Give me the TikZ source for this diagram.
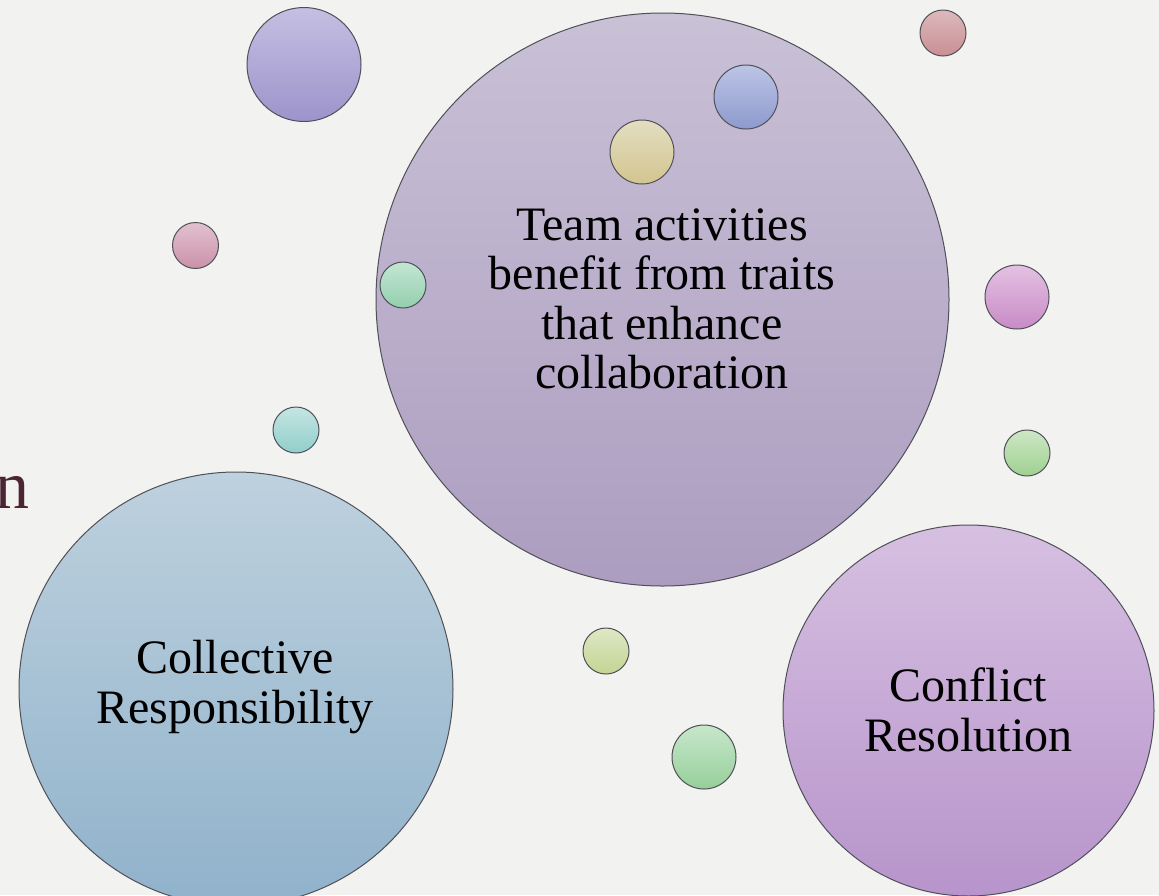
\documentclass[tikz,border=0pt]{standalone}
\usepackage{fontspec}
\setmainfont{Liberation Serif}
% bubble palette: <name>t = top of the shade, <name>b = bottom
\definecolor{bgc}{HTML}{F2F2F0}
\definecolor{rimc}{HTML}{505058}
\definecolor{inkc}{HTML}{4A2533}
\definecolor{teamt}{HTML}{C9C1D6}\definecolor{teamb}{HTML}{AC9DC0}
\definecolor{collt}{HTML}{BED1DE}\definecolor{collb}{HTML}{90B2CB}
\definecolor{conft}{HTML}{D6C0E1}\definecolor{confb}{HTML}{B794CB}
\definecolor{lavt}{HTML}{C5BFE2}\definecolor{lavb}{HTML}{9D93CB}
\definecolor{roset}{HTML}{DDB9BC}\definecolor{roseb}{HTML}{C88F93}
\definecolor{bluet}{HTML}{BCC5E5}\definecolor{blueb}{HTML}{8E99CE}
\definecolor{sandt}{HTML}{E2DEC1}\definecolor{sandb}{HTML}{D3C58F}
\definecolor{mintt}{HTML}{C3E6D3}\definecolor{mintb}{HTML}{93CFAD}
\definecolor{pinkt}{HTML}{E2C1CF}\definecolor{pinkb}{HTML}{CB91A9}
\definecolor{tealt}{HTML}{C5E5E3}\definecolor{tealb}{HTML}{91CECB}
\definecolor{orcht}{HTML}{E4C1E3}\definecolor{orchb}{HTML}{C88BC6}
\definecolor{leaft}{HTML}{CDE7C5}\definecolor{leafb}{HTML}{9FD190}
\definecolor{limet}{HTML}{DFE7C5}\definecolor{limeb}{HTML}{C3D593}
\definecolor{fernt}{HTML}{C7E7CB}\definecolor{fernb}{HTML}{96CF9A}
\begin{document}
\begin{tikzpicture}[x=1pt,y=-1pt,
  bubble/.style={circle, draw=rimc, line width=1pt, inner sep=0pt,
    minimum size=#1},
  grad/.style={top color=#1t, bottom color=#1b},
  label/.style={align=center, inner sep=0pt, text=black,
    font=\fontsize{48}{49.5}\selectfont}]
\useasboundingbox (0,0) rectangle (1159,895);
\clip (0,0) rectangle (1159,895);
\fill[bgc] (0,0) rectangle (1159,895);

% clipped tail of a heading at the left edge
\node[anchor=base west, inner sep=0pt, text=inkc,
  font=\fontsize{68}{70}\selectfont] (tail) at (-5,508) {n};

% main bubbles
\node[bubble=573pt, grad=team] (team) at (662.5,299.5) {};
\node[bubble=434pt, grad=coll] (coll) at (236,689) {};
\node[bubble=371pt, grad=conf] (conf) at (968.5,710.5) {};

\node[label] (teamtxt) at (662,299)
  {Team activities\\benefit from traits\\that enhance\\collaboration};
\node[label] (colltxt) at (235,687) {Collective\\Responsibility};
\node[label] (conftxt) at (968.5,710) {Conflict\\Resolution};

% small decorative bubbles
\node[bubble=114pt, grad=lav]  (b1)  at (304,64.5) {};
\node[bubble=46pt,  grad=rose] (b2)  at (943,33) {};
\node[bubble=64pt,  grad=blue] (b3)  at (746,97) {};
\node[bubble=64pt,  grad=sand] (b4)  at (642,152) {};
\node[bubble=46pt,  grad=mint] (b5)  at (403,285) {};
\node[bubble=46pt,  grad=pink] (b6)  at (195.5,245.5) {};
\node[bubble=46pt,  grad=teal] (b7)  at (296,430) {};
\node[bubble=64pt,  grad=orch] (b8)  at (1017,297) {};
\node[bubble=46pt,  grad=leaf] (b9)  at (1027,453) {};
\node[bubble=46pt,  grad=lime] (b10) at (606,651) {};
\node[bubble=64pt,  grad=fern] (b11) at (704,757) {};
\end{tikzpicture}
\end{document}
